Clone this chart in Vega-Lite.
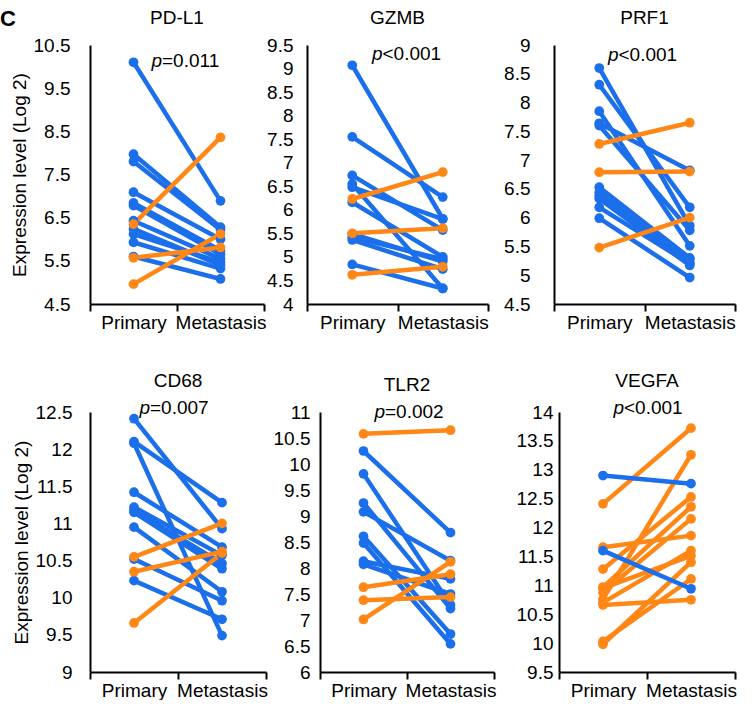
{
  "$schema": "https://vega.github.io/schema/vega-lite/v6.json",
  "padding": {"left": 0, "top": 8, "right": 0, "bottom": 0},
  "title": {"text": "C", "anchor": "start", "frame": "bounds", "fontSize": 22, "fontWeight": "bold", "offset": -22, "dx": -10, "color": "black"},
  "datasets": {
    "pvals": [
      {"gene": "PD-L1", "pre": "p", "rel": "=0.011"},
      {"gene": "GZMB", "pre": "p", "rel": "<0.001"},
      {"gene": "PRF1", "pre": "p", "rel": "<0.001"},
      {"gene": "CD68", "pre": "p", "rel": "=0.007"},
      {"gene": "TLR2", "pre": "p", "rel": "=0.002"},
      {"gene": "VEGFA", "pre": "p", "rel": "<0.001"}
    ],
    "expr": [
      {"gene": "PD-L1", "id": 1, "stage": "Primary", "value": 10.10, "dir": "down"},
      {"gene": "PD-L1", "id": 1, "stage": "Metastasis", "value": 6.89, "dir": "down"},
      {"gene": "PD-L1", "id": 2, "stage": "Primary", "value": 7.97, "dir": "down"},
      {"gene": "PD-L1", "id": 2, "stage": "Metastasis", "value": 6.28, "dir": "down"},
      {"gene": "PD-L1", "id": 3, "stage": "Primary", "value": 7.80, "dir": "down"},
      {"gene": "PD-L1", "id": 3, "stage": "Metastasis", "value": 6.22, "dir": "down"},
      {"gene": "PD-L1", "id": 4, "stage": "Primary", "value": 7.09, "dir": "down"},
      {"gene": "PD-L1", "id": 4, "stage": "Metastasis", "value": 6.00, "dir": "down"},
      {"gene": "PD-L1", "id": 5, "stage": "Primary", "value": 6.84, "dir": "down"},
      {"gene": "PD-L1", "id": 5, "stage": "Metastasis", "value": 5.74, "dir": "down"},
      {"gene": "PD-L1", "id": 6, "stage": "Primary", "value": 6.78, "dir": "down"},
      {"gene": "PD-L1", "id": 6, "stage": "Metastasis", "value": 5.65, "dir": "down"},
      {"gene": "PD-L1", "id": 7, "stage": "Primary", "value": 6.43, "dir": "down"},
      {"gene": "PD-L1", "id": 7, "stage": "Metastasis", "value": 5.55, "dir": "down"},
      {"gene": "PD-L1", "id": 8, "stage": "Primary", "value": 6.24, "dir": "down"},
      {"gene": "PD-L1", "id": 8, "stage": "Metastasis", "value": 5.40, "dir": "down"},
      {"gene": "PD-L1", "id": 9, "stage": "Primary", "value": 6.12, "dir": "down"},
      {"gene": "PD-L1", "id": 9, "stage": "Metastasis", "value": 5.47, "dir": "down"},
      {"gene": "PD-L1", "id": 10, "stage": "Primary", "value": 5.93, "dir": "down"},
      {"gene": "PD-L1", "id": 10, "stage": "Metastasis", "value": 5.32, "dir": "down"},
      {"gene": "PD-L1", "id": 11, "stage": "Primary", "value": 5.60, "dir": "down"},
      {"gene": "PD-L1", "id": 11, "stage": "Metastasis", "value": 5.08, "dir": "down"},
      {"gene": "PD-L1", "id": 12, "stage": "Primary", "value": 6.35, "dir": "up"},
      {"gene": "PD-L1", "id": 12, "stage": "Metastasis", "value": 8.36, "dir": "up"},
      {"gene": "PD-L1", "id": 13, "stage": "Primary", "value": 5.57, "dir": "up"},
      {"gene": "PD-L1", "id": 13, "stage": "Metastasis", "value": 5.81, "dir": "up"},
      {"gene": "PD-L1", "id": 14, "stage": "Primary", "value": 4.96, "dir": "up"},
      {"gene": "PD-L1", "id": 14, "stage": "Metastasis", "value": 6.12, "dir": "up"},

      {"gene": "GZMB", "id": 1, "stage": "Primary", "value": 9.07, "dir": "down"},
      {"gene": "GZMB", "id": 1, "stage": "Metastasis", "value": 5.81, "dir": "down"},
      {"gene": "GZMB", "id": 2, "stage": "Primary", "value": 7.55, "dir": "down"},
      {"gene": "GZMB", "id": 2, "stage": "Metastasis", "value": 6.27, "dir": "down"},
      {"gene": "GZMB", "id": 3, "stage": "Primary", "value": 6.73, "dir": "down"},
      {"gene": "GZMB", "id": 3, "stage": "Metastasis", "value": 5.57, "dir": "down"},
      {"gene": "GZMB", "id": 4, "stage": "Primary", "value": 6.55, "dir": "down"},
      {"gene": "GZMB", "id": 4, "stage": "Metastasis", "value": 4.33, "dir": "down"},
      {"gene": "GZMB", "id": 5, "stage": "Primary", "value": 6.48, "dir": "down"},
      {"gene": "GZMB", "id": 5, "stage": "Metastasis", "value": 5.80, "dir": "down"},
      {"gene": "GZMB", "id": 6, "stage": "Primary", "value": 6.16, "dir": "down"},
      {"gene": "GZMB", "id": 6, "stage": "Metastasis", "value": 5.00, "dir": "down"},
      {"gene": "GZMB", "id": 7, "stage": "Primary", "value": 5.49, "dir": "down"},
      {"gene": "GZMB", "id": 7, "stage": "Metastasis", "value": 4.90, "dir": "down"},
      {"gene": "GZMB", "id": 8, "stage": "Primary", "value": 5.42, "dir": "down"},
      {"gene": "GZMB", "id": 8, "stage": "Metastasis", "value": 4.95, "dir": "down"},
      {"gene": "GZMB", "id": 9, "stage": "Primary", "value": 5.36, "dir": "down"},
      {"gene": "GZMB", "id": 9, "stage": "Metastasis", "value": 4.74, "dir": "down"},
      {"gene": "GZMB", "id": 10, "stage": "Primary", "value": 4.84, "dir": "down"},
      {"gene": "GZMB", "id": 10, "stage": "Metastasis", "value": 4.33, "dir": "down"},
      {"gene": "GZMB", "id": 11, "stage": "Primary", "value": 6.23, "dir": "up"},
      {"gene": "GZMB", "id": 11, "stage": "Metastasis", "value": 6.80, "dir": "up"},
      {"gene": "GZMB", "id": 12, "stage": "Primary", "value": 5.50, "dir": "up"},
      {"gene": "GZMB", "id": 12, "stage": "Metastasis", "value": 5.61, "dir": "up"},
      {"gene": "GZMB", "id": 13, "stage": "Primary", "value": 4.62, "dir": "up"},
      {"gene": "GZMB", "id": 13, "stage": "Metastasis", "value": 4.79, "dir": "up"},

      {"gene": "PRF1", "id": 1, "stage": "Primary", "value": 8.60, "dir": "down"},
      {"gene": "PRF1", "id": 1, "stage": "Metastasis", "value": 5.86, "dir": "down"},
      {"gene": "PRF1", "id": 2, "stage": "Primary", "value": 8.31, "dir": "down"},
      {"gene": "PRF1", "id": 2, "stage": "Metastasis", "value": 6.18, "dir": "down"},
      {"gene": "PRF1", "id": 3, "stage": "Primary", "value": 7.85, "dir": "down"},
      {"gene": "PRF1", "id": 3, "stage": "Metastasis", "value": 5.51, "dir": "down"},
      {"gene": "PRF1", "id": 4, "stage": "Primary", "value": 7.64, "dir": "down"},
      {"gene": "PRF1", "id": 4, "stage": "Metastasis", "value": 6.82, "dir": "down"},
      {"gene": "PRF1", "id": 5, "stage": "Primary", "value": 7.60, "dir": "down"},
      {"gene": "PRF1", "id": 5, "stage": "Metastasis", "value": 5.78, "dir": "down"},
      {"gene": "PRF1", "id": 6, "stage": "Primary", "value": 6.53, "dir": "down"},
      {"gene": "PRF1", "id": 6, "stage": "Metastasis", "value": 5.30, "dir": "down"},
      {"gene": "PRF1", "id": 7, "stage": "Primary", "value": 6.44, "dir": "down"},
      {"gene": "PRF1", "id": 7, "stage": "Metastasis", "value": 5.28, "dir": "down"},
      {"gene": "PRF1", "id": 8, "stage": "Primary", "value": 6.38, "dir": "down"},
      {"gene": "PRF1", "id": 8, "stage": "Metastasis", "value": 5.22, "dir": "down"},
      {"gene": "PRF1", "id": 9, "stage": "Primary", "value": 6.33, "dir": "down"},
      {"gene": "PRF1", "id": 9, "stage": "Metastasis", "value": 5.17, "dir": "down"},
      {"gene": "PRF1", "id": 10, "stage": "Primary", "value": 6.18, "dir": "down"},
      {"gene": "PRF1", "id": 10, "stage": "Metastasis", "value": 5.20, "dir": "down"},
      {"gene": "PRF1", "id": 11, "stage": "Primary", "value": 5.99, "dir": "down"},
      {"gene": "PRF1", "id": 11, "stage": "Metastasis", "value": 4.96, "dir": "down"},
      {"gene": "PRF1", "id": 12, "stage": "Primary", "value": 7.28, "dir": "up"},
      {"gene": "PRF1", "id": 12, "stage": "Metastasis", "value": 7.65, "dir": "up"},
      {"gene": "PRF1", "id": 13, "stage": "Primary", "value": 6.79, "dir": "up"},
      {"gene": "PRF1", "id": 13, "stage": "Metastasis", "value": 6.80, "dir": "up"},
      {"gene": "PRF1", "id": 14, "stage": "Primary", "value": 5.48, "dir": "up"},
      {"gene": "PRF1", "id": 14, "stage": "Metastasis", "value": 6.00, "dir": "up"},

      {"gene": "CD68", "id": 1, "stage": "Primary", "value": 12.41, "dir": "down"},
      {"gene": "CD68", "id": 1, "stage": "Metastasis", "value": 10.93, "dir": "down"},
      {"gene": "CD68", "id": 2, "stage": "Primary", "value": 12.10, "dir": "down"},
      {"gene": "CD68", "id": 2, "stage": "Metastasis", "value": 11.28, "dir": "down"},
      {"gene": "CD68", "id": 3, "stage": "Primary", "value": 12.08, "dir": "down"},
      {"gene": "CD68", "id": 3, "stage": "Metastasis", "value": 9.49, "dir": "down"},
      {"gene": "CD68", "id": 4, "stage": "Primary", "value": 11.42, "dir": "down"},
      {"gene": "CD68", "id": 4, "stage": "Metastasis", "value": 10.68, "dir": "down"},
      {"gene": "CD68", "id": 5, "stage": "Primary", "value": 11.22, "dir": "down"},
      {"gene": "CD68", "id": 5, "stage": "Metastasis", "value": 10.57, "dir": "down"},
      {"gene": "CD68", "id": 6, "stage": "Primary", "value": 11.18, "dir": "down"},
      {"gene": "CD68", "id": 6, "stage": "Metastasis", "value": 10.46, "dir": "down"},
      {"gene": "CD68", "id": 7, "stage": "Primary", "value": 11.15, "dir": "down"},
      {"gene": "CD68", "id": 7, "stage": "Metastasis", "value": 10.39, "dir": "down"},
      {"gene": "CD68", "id": 8, "stage": "Primary", "value": 10.95, "dir": "down"},
      {"gene": "CD68", "id": 8, "stage": "Metastasis", "value": 10.08, "dir": "down"},
      {"gene": "CD68", "id": 9, "stage": "Primary", "value": 10.52, "dir": "down"},
      {"gene": "CD68", "id": 9, "stage": "Metastasis", "value": 9.96, "dir": "down"},
      {"gene": "CD68", "id": 10, "stage": "Primary", "value": 10.23, "dir": "down"},
      {"gene": "CD68", "id": 10, "stage": "Metastasis", "value": 9.71, "dir": "down"},
      {"gene": "CD68", "id": 11, "stage": "Primary", "value": 10.55, "dir": "up"},
      {"gene": "CD68", "id": 11, "stage": "Metastasis", "value": 11.00, "dir": "up"},
      {"gene": "CD68", "id": 12, "stage": "Primary", "value": 10.35, "dir": "up"},
      {"gene": "CD68", "id": 12, "stage": "Metastasis", "value": 10.62, "dir": "up"},
      {"gene": "CD68", "id": 13, "stage": "Primary", "value": 9.66, "dir": "up"},
      {"gene": "CD68", "id": 13, "stage": "Metastasis", "value": 10.60, "dir": "up"},

      {"gene": "TLR2", "id": 1, "stage": "Primary", "value": 10.25, "dir": "down"},
      {"gene": "TLR2", "id": 1, "stage": "Metastasis", "value": 8.68, "dir": "down"},
      {"gene": "TLR2", "id": 2, "stage": "Primary", "value": 9.81, "dir": "down"},
      {"gene": "TLR2", "id": 2, "stage": "Metastasis", "value": 7.29, "dir": "down"},
      {"gene": "TLR2", "id": 3, "stage": "Primary", "value": 9.25, "dir": "down"},
      {"gene": "TLR2", "id": 3, "stage": "Metastasis", "value": 7.22, "dir": "down"},
      {"gene": "TLR2", "id": 4, "stage": "Primary", "value": 9.08, "dir": "down"},
      {"gene": "TLR2", "id": 4, "stage": "Metastasis", "value": 8.14, "dir": "down"},
      {"gene": "TLR2", "id": 5, "stage": "Primary", "value": 8.61, "dir": "down"},
      {"gene": "TLR2", "id": 5, "stage": "Metastasis", "value": 6.73, "dir": "down"},
      {"gene": "TLR2", "id": 6, "stage": "Primary", "value": 8.48, "dir": "down"},
      {"gene": "TLR2", "id": 6, "stage": "Metastasis", "value": 6.54, "dir": "down"},
      {"gene": "TLR2", "id": 7, "stage": "Primary", "value": 8.13, "dir": "down"},
      {"gene": "TLR2", "id": 7, "stage": "Metastasis", "value": 7.79, "dir": "down"},
      {"gene": "TLR2", "id": 8, "stage": "Primary", "value": 8.07, "dir": "down"},
      {"gene": "TLR2", "id": 8, "stage": "Metastasis", "value": 7.50, "dir": "down"},
      {"gene": "TLR2", "id": 9, "stage": "Primary", "value": 10.58, "dir": "up"},
      {"gene": "TLR2", "id": 9, "stage": "Metastasis", "value": 10.65, "dir": "up"},
      {"gene": "TLR2", "id": 10, "stage": "Primary", "value": 7.63, "dir": "up"},
      {"gene": "TLR2", "id": 10, "stage": "Metastasis", "value": 7.88, "dir": "up"},
      {"gene": "TLR2", "id": 11, "stage": "Primary", "value": 7.38, "dir": "up"},
      {"gene": "TLR2", "id": 11, "stage": "Metastasis", "value": 7.44, "dir": "up"},
      {"gene": "TLR2", "id": 12, "stage": "Primary", "value": 7.01, "dir": "up"},
      {"gene": "TLR2", "id": 12, "stage": "Metastasis", "value": 8.12, "dir": "up"},

      {"gene": "VEGFA", "id": 3, "stage": "Primary", "value": 12.41, "dir": "up"},
      {"gene": "VEGFA", "id": 3, "stage": "Metastasis", "value": 13.72, "dir": "up"},
      {"gene": "VEGFA", "id": 4, "stage": "Primary", "value": 11.66, "dir": "up"},
      {"gene": "VEGFA", "id": 4, "stage": "Metastasis", "value": 11.86, "dir": "up"},
      {"gene": "VEGFA", "id": 5, "stage": "Primary", "value": 11.28, "dir": "up"},
      {"gene": "VEGFA", "id": 5, "stage": "Metastasis", "value": 12.53, "dir": "up"},
      {"gene": "VEGFA", "id": 6, "stage": "Primary", "value": 10.97, "dir": "up"},
      {"gene": "VEGFA", "id": 6, "stage": "Metastasis", "value": 12.36, "dir": "up"},
      {"gene": "VEGFA", "id": 7, "stage": "Primary", "value": 10.88, "dir": "up"},
      {"gene": "VEGFA", "id": 7, "stage": "Metastasis", "value": 12.15, "dir": "up"},
      {"gene": "VEGFA", "id": 8, "stage": "Primary", "value": 10.76, "dir": "up"},
      {"gene": "VEGFA", "id": 8, "stage": "Metastasis", "value": 13.26, "dir": "up"},
      {"gene": "VEGFA", "id": 9, "stage": "Primary", "value": 10.70, "dir": "up"},
      {"gene": "VEGFA", "id": 9, "stage": "Metastasis", "value": 11.60, "dir": "up"},
      {"gene": "VEGFA", "id": 10, "stage": "Primary", "value": 10.95, "dir": "up"},
      {"gene": "VEGFA", "id": 10, "stage": "Metastasis", "value": 11.51, "dir": "up"},
      {"gene": "VEGFA", "id": 11, "stage": "Primary", "value": 10.66, "dir": "up"},
      {"gene": "VEGFA", "id": 11, "stage": "Metastasis", "value": 10.75, "dir": "up"},
      {"gene": "VEGFA", "id": 12, "stage": "Primary", "value": 9.98, "dir": "up"},
      {"gene": "VEGFA", "id": 12, "stage": "Metastasis", "value": 11.40, "dir": "up"},
      {"gene": "VEGFA", "id": 13, "stage": "Primary", "value": 10.03, "dir": "up"},
      {"gene": "VEGFA", "id": 13, "stage": "Metastasis", "value": 11.11, "dir": "up"},
      {"gene": "VEGFA", "id": 1, "stage": "Primary", "value": 12.90, "dir": "down"},
      {"gene": "VEGFA", "id": 1, "stage": "Metastasis", "value": 12.76, "dir": "down"},
      {"gene": "VEGFA", "id": 2, "stage": "Primary", "value": 11.60, "dir": "down"},
      {"gene": "VEGFA", "id": 2, "stage": "Metastasis", "value": 10.94, "dir": "down"}
    ]
  },
  "resolve": {"scale": {"color": "independent"}},
  "spacing": 39,
  "vconcat": [
    {
      "spacing": 0,
      "hconcat": [
        {
          "width": 174, "height": 259, "title": "PD-L1",
          "layer": [
            {
              "data": {"name": "expr"}, "transform": [{"filter": "datum.gene === 'PD-L1'"}],
              "encoding": {
                "x": {"field": "stage", "type": "nominal", "scale": {"type": "band", "domain": ["Primary", "Metastasis"], "paddingInner": 0, "paddingOuter": 0}},
                "y": {"field": "value", "type": "quantitative", "scale": {"domain": [4.5, 10.5], "nice": false, "zero": false}, "axis": {"values": [4.5, 5.5, 6.5, 7.5, 8.5, 9.5, 10.5], "format": ".3~g", "labelOverlap": false, "title": "Expression level (Log 2)", "labelPadding": 20, "titlePadding": 4}},
                "color": {"field": "dir", "type": "nominal", "scale": {"domain": ["down", "up"], "range": ["#1B6FEA", "#FF8716"]}, "legend": null}
              },
              "layer": [
                {"mark": {"type": "line", "strokeWidth": 4.5}, "encoding": {"detail": {"field": "id", "type": "nominal"}}},
                {"mark": {"type": "circle", "size": 95, "opacity": 1}}
              ]
            },
            {"data": {"name": "pvals"}, "transform": [{"filter": "datum.gene === 'PD-L1'"}], "mark": {"type": "text", "align": "right", "baseline": "alphabetic", "fontStyle": "italic", "fontSize": 19, "dx": -15, "color": "black"},
             "encoding": {"x": {"datum": "Metastasis", "type": "nominal", "bandPosition": 0}, "y": {"datum": 9.99, "type": "quantitative", "axis": {"values": [4.5, 5.5, 6.5, 7.5, 8.5, 9.5, 10.5], "format": ".3~g", "labelOverlap": false, "title": "Expression level (Log 2)", "labelPadding": 20, "titlePadding": 4}}, "text": {"field": "pre"}}},
            {"data": {"name": "pvals"}, "transform": [{"filter": "datum.gene === 'PD-L1'"}], "mark": {"type": "text", "align": "left", "baseline": "alphabetic", "fontSize": 19, "dx": -15, "color": "black"},
             "encoding": {"x": {"datum": "Metastasis", "type": "nominal", "bandPosition": 0}, "y": {"datum": 9.99, "type": "quantitative", "axis": {"values": [4.5, 5.5, 6.5, 7.5, 8.5, 9.5, 10.5], "format": ".3~g", "labelOverlap": false, "title": "Expression level (Log 2)", "labelPadding": 20, "titlePadding": 4}}, "text": {"field": "rel"}}}
          ]
        },
        {
          "spacing": 14,
          "hconcat": [
            {
              "width": 181, "height": 259, "title": "GZMB",
              "layer": [
                {
                  "data": {"name": "expr"}, "transform": [{"filter": "datum.gene === 'GZMB'"}],
                  "encoding": {
                    "x": {"field": "stage", "type": "nominal", "scale": {"type": "band", "domain": ["Primary", "Metastasis"], "paddingInner": 0, "paddingOuter": 0}},
                    "y": {"field": "value", "type": "quantitative", "scale": {"domain": [4, 9.5], "nice": false, "zero": false}, "axis": {"values": [4, 4.5, 5, 5.5, 6, 6.5, 7, 7.5, 8, 8.5, 9, 9.5], "format": ".3~g", "labelOverlap": false, "title": null, "labelPadding": 14}},
                    "color": {"field": "dir", "type": "nominal", "scale": {"domain": ["down", "up"], "range": ["#1B6FEA", "#FF8716"]}, "legend": null}
                  },
                  "layer": [
                    {"mark": {"type": "line", "strokeWidth": 4.5}, "encoding": {"detail": {"field": "id", "type": "nominal"}}},
                    {"mark": {"type": "circle", "size": 95, "opacity": 1}}
                  ]
                },
                {"data": {"name": "pvals"}, "transform": [{"filter": "datum.gene === 'GZMB'"}], "mark": {"type": "text", "align": "right", "baseline": "alphabetic", "fontStyle": "italic", "fontSize": 19, "dx": -15, "color": "black"},
                 "encoding": {"x": {"datum": "Metastasis", "type": "nominal", "bandPosition": 0}, "y": {"datum": 9.18, "type": "quantitative", "axis": {"values": [4, 4.5, 5, 5.5, 6, 6.5, 7, 7.5, 8, 8.5, 9, 9.5], "format": ".3~g", "labelOverlap": false, "title": null, "labelPadding": 14}}, "text": {"field": "pre"}}},
                {"data": {"name": "pvals"}, "transform": [{"filter": "datum.gene === 'GZMB'"}], "mark": {"type": "text", "align": "left", "baseline": "alphabetic", "fontSize": 19, "dx": -15, "color": "black"},
                 "encoding": {"x": {"datum": "Metastasis", "type": "nominal", "bandPosition": 0}, "y": {"datum": 9.18, "type": "quantitative", "axis": {"values": [4, 4.5, 5, 5.5, 6, 6.5, 7, 7.5, 8, 8.5, 9, 9.5], "format": ".3~g", "labelOverlap": false, "title": null, "labelPadding": 14}}, "text": {"field": "rel"}}}
              ]
            },
            {
              "width": 181, "height": 259, "title": "PRF1",
              "layer": [
                {
                  "data": {"name": "expr"}, "transform": [{"filter": "datum.gene === 'PRF1'"}],
                  "encoding": {
                    "x": {"field": "stage", "type": "nominal", "scale": {"type": "band", "domain": ["Primary", "Metastasis"], "paddingInner": 0, "paddingOuter": 0}},
                    "y": {"field": "value", "type": "quantitative", "scale": {"domain": [4.5, 9], "nice": false, "zero": false}, "axis": {"values": [4.5, 5, 5.5, 6, 6.5, 7, 7.5, 8, 8.5, 9], "format": ".3~g", "labelOverlap": false, "title": null, "labelPadding": 24}},
                    "color": {"field": "dir", "type": "nominal", "scale": {"domain": ["down", "up"], "range": ["#1B6FEA", "#FF8716"]}, "legend": null}
                  },
                  "layer": [
                    {"mark": {"type": "line", "strokeWidth": 4.5}, "encoding": {"detail": {"field": "id", "type": "nominal"}}},
                    {"mark": {"type": "circle", "size": 95, "opacity": 1}}
                  ]
                },
                {"data": {"name": "pvals"}, "transform": [{"filter": "datum.gene === 'PRF1'"}], "mark": {"type": "text", "align": "right", "baseline": "alphabetic", "fontStyle": "italic", "fontSize": 19, "dx": -26, "color": "black"},
                 "encoding": {"x": {"datum": "Metastasis", "type": "nominal", "bandPosition": 0}, "y": {"datum": 8.73, "type": "quantitative", "axis": {"values": [4.5, 5, 5.5, 6, 6.5, 7, 7.5, 8, 8.5, 9], "format": ".3~g", "labelOverlap": false, "title": null, "labelPadding": 24}}, "text": {"field": "pre"}}},
                {"data": {"name": "pvals"}, "transform": [{"filter": "datum.gene === 'PRF1'"}], "mark": {"type": "text", "align": "left", "baseline": "alphabetic", "fontSize": 19, "dx": -26, "color": "black"},
                 "encoding": {"x": {"datum": "Metastasis", "type": "nominal", "bandPosition": 0}, "y": {"datum": 8.73, "type": "quantitative", "axis": {"values": [4.5, 5, 5.5, 6, 6.5, 7, 7.5, 8, 8.5, 9], "format": ".3~g", "labelOverlap": false, "title": null, "labelPadding": 24}}, "text": {"field": "rel"}}}
              ]
            }
          ]
        }
      ]
    },
    {
      "spacing": 5,
      "hconcat": [
        {
          "width": 176, "height": 260, "title": "CD68",
          "layer": [
            {
              "data": {"name": "expr"}, "transform": [{"filter": "datum.gene === 'CD68'"}],
              "encoding": {
                "x": {"field": "stage", "type": "nominal", "scale": {"type": "band", "domain": ["Primary", "Metastasis"], "paddingInner": 0, "paddingOuter": 0}},
                "y": {"field": "value", "type": "quantitative", "scale": {"domain": [9, 12.5], "nice": false, "zero": false}, "axis": {"values": [9, 9.5, 10, 10.5, 11, 11.5, 12, 12.5], "format": ".3~g", "labelOverlap": false, "title": "Expression level (Log 2)", "labelPadding": 18, "titlePadding": 4}},
                "color": {"field": "dir", "type": "nominal", "scale": {"domain": ["down", "up"], "range": ["#1B6FEA", "#FF8716"]}, "legend": null}
              },
              "layer": [
                {"mark": {"type": "line", "strokeWidth": 4.5}, "encoding": {"detail": {"field": "id", "type": "nominal"}}},
                {"mark": {"type": "circle", "size": 95, "opacity": 1}}
              ]
            },
            {"data": {"name": "pvals"}, "transform": [{"filter": "datum.gene === 'CD68'"}], "mark": {"type": "text", "align": "right", "baseline": "alphabetic", "fontStyle": "italic", "fontSize": 19, "dx": -28, "color": "black"},
             "encoding": {"x": {"datum": "Metastasis", "type": "nominal", "bandPosition": 0}, "y": {"datum": 12.47, "type": "quantitative", "axis": {"values": [9, 9.5, 10, 10.5, 11, 11.5, 12, 12.5], "format": ".3~g", "labelOverlap": false, "title": "Expression level (Log 2)", "labelPadding": 18, "titlePadding": 4}}, "text": {"field": "pre"}}},
            {"data": {"name": "pvals"}, "transform": [{"filter": "datum.gene === 'CD68'"}], "mark": {"type": "text", "align": "left", "baseline": "alphabetic", "fontSize": 19, "dx": -28, "color": "black"},
             "encoding": {"x": {"datum": "Metastasis", "type": "nominal", "bandPosition": 0}, "y": {"datum": 12.47, "type": "quantitative", "axis": {"values": [9, 9.5, 10, 10.5, 11, 11.5, 12, 12.5], "format": ".3~g", "labelOverlap": false, "title": "Expression level (Log 2)", "labelPadding": 18, "titlePadding": 4}}, "text": {"field": "rel"}}}
          ]
        },
        {
          "spacing": 20,
          "hconcat": [
            {
              "width": 174, "height": 260, "title": "TLR2",
              "layer": [
                {
                  "data": {"name": "expr"}, "transform": [{"filter": "datum.gene === 'TLR2'"}],
                  "encoding": {
                    "x": {"field": "stage", "type": "nominal", "scale": {"type": "band", "domain": ["Primary", "Metastasis"], "paddingInner": 0, "paddingOuter": 0}},
                    "y": {"field": "value", "type": "quantitative", "scale": {"domain": [6, 11], "nice": false, "zero": false}, "axis": {"values": [6, 6.5, 7, 7.5, 8, 8.5, 9, 9.5, 10, 10.5, 11], "format": ".3~g", "labelOverlap": false, "title": null, "labelPadding": 10}},
                    "color": {"field": "dir", "type": "nominal", "scale": {"domain": ["down", "up"], "range": ["#1B6FEA", "#FF6E14"]}, "legend": null}
                  },
                  "layer": [
                    {"mark": {"type": "line", "strokeWidth": 4.5}, "encoding": {"detail": {"field": "id", "type": "nominal"}}},
                    {"mark": {"type": "circle", "size": 95, "opacity": 1}}
                  ]
                },
                {"data": {"name": "pvals"}, "transform": [{"filter": "datum.gene === 'TLR2'"}], "mark": {"type": "text", "align": "right", "baseline": "alphabetic", "fontStyle": "italic", "fontSize": 19, "dx": -22, "color": "black"},
                 "encoding": {"x": {"datum": "Metastasis", "type": "nominal", "bandPosition": 0}, "y": {"datum": 10.88, "type": "quantitative", "axis": {"values": [6, 6.5, 7, 7.5, 8, 8.5, 9, 9.5, 10, 10.5, 11], "format": ".3~g", "labelOverlap": false, "title": null, "labelPadding": 10}}, "text": {"field": "pre"}}},
                {"data": {"name": "pvals"}, "transform": [{"filter": "datum.gene === 'TLR2'"}], "mark": {"type": "text", "align": "left", "baseline": "alphabetic", "fontSize": 19, "dx": -22, "color": "black"},
                 "encoding": {"x": {"datum": "Metastasis", "type": "nominal", "bandPosition": 0}, "y": {"datum": 10.88, "type": "quantitative", "axis": {"values": [6, 6.5, 7, 7.5, 8, 8.5, 9, 9.5, 10, 10.5, 11], "format": ".3~g", "labelOverlap": false, "title": null, "labelPadding": 10}}, "text": {"field": "rel"}}}
              ]
            },
            {
              "width": 176, "height": 260, "title": "VEGFA",
              "layer": [
                {
                  "data": {"name": "expr"}, "transform": [{"filter": "datum.gene === 'VEGFA'"}],
                  "encoding": {
                    "x": {"field": "stage", "type": "nominal", "scale": {"type": "band", "domain": ["Primary", "Metastasis"], "paddingInner": 0, "paddingOuter": 0}},
                    "y": {"field": "value", "type": "quantitative", "scale": {"domain": [9.5, 14], "nice": false, "zero": false}, "axis": {"values": [9.5, 10, 10.5, 11, 11.5, 12, 12.5, 13, 13.5, 14], "format": ".3~g", "labelOverlap": false, "title": null, "labelPadding": 6}},
                    "color": {"field": "dir", "type": "nominal", "scale": {"domain": ["down", "up"], "range": ["#1B6FEA", "#FF8716"]}, "legend": null}
                  },
                  "layer": [
                    {"mark": {"type": "line", "strokeWidth": 4.5}, "encoding": {"detail": {"field": "id", "type": "nominal"}}},
                    {"mark": {"type": "circle", "size": 95, "opacity": 1}}
                  ]
                },
                {"data": {"name": "pvals"}, "transform": [{"filter": "datum.gene === 'VEGFA'"}], "mark": {"type": "text", "align": "right", "baseline": "alphabetic", "fontStyle": "italic", "fontSize": 19, "dx": -23, "color": "black"},
                 "encoding": {"x": {"datum": "Metastasis", "type": "nominal", "bandPosition": 0}, "y": {"datum": 13.97, "type": "quantitative", "axis": {"values": [9.5, 10, 10.5, 11, 11.5, 12, 12.5, 13, 13.5, 14], "format": ".3~g", "labelOverlap": false, "title": null, "labelPadding": 6}}, "text": {"field": "pre"}}},
                {"data": {"name": "pvals"}, "transform": [{"filter": "datum.gene === 'VEGFA'"}], "mark": {"type": "text", "align": "left", "baseline": "alphabetic", "fontSize": 19, "dx": -23, "color": "black"},
                 "encoding": {"x": {"datum": "Metastasis", "type": "nominal", "bandPosition": 0}, "y": {"datum": 13.97, "type": "quantitative", "axis": {"values": [9.5, 10, 10.5, 11, 11.5, 12, 12.5, 13, 13.5, 14], "format": ".3~g", "labelOverlap": false, "title": null, "labelPadding": 6}}, "text": {"field": "rel"}}}
              ]
            }
          ]
        }
      ]
    }
  ],
  "config": {
    "font": "Liberation Sans",
    "view": {"stroke": null},
    "axis": {"grid": false, "domainColor": "black", "domainWidth": 2, "labelColor": "black", "labelFontSize": 19, "labelOverlap": false, "titleColor": "black", "titleFontSize": 19, "titleFontWeight": "normal", "tickColor": "black"},
    "axisY": {"ticks": false},
    "axisX": {"tickSize": 7, "tickWidth": 2, "tickBand": "extent", "labelAngle": 0, "title": null, "labelPadding": 2},
    "title": {"fontSize": 19, "fontWeight": "normal", "color": "black", "offset": 8, "frame": "group"}
  }
}
